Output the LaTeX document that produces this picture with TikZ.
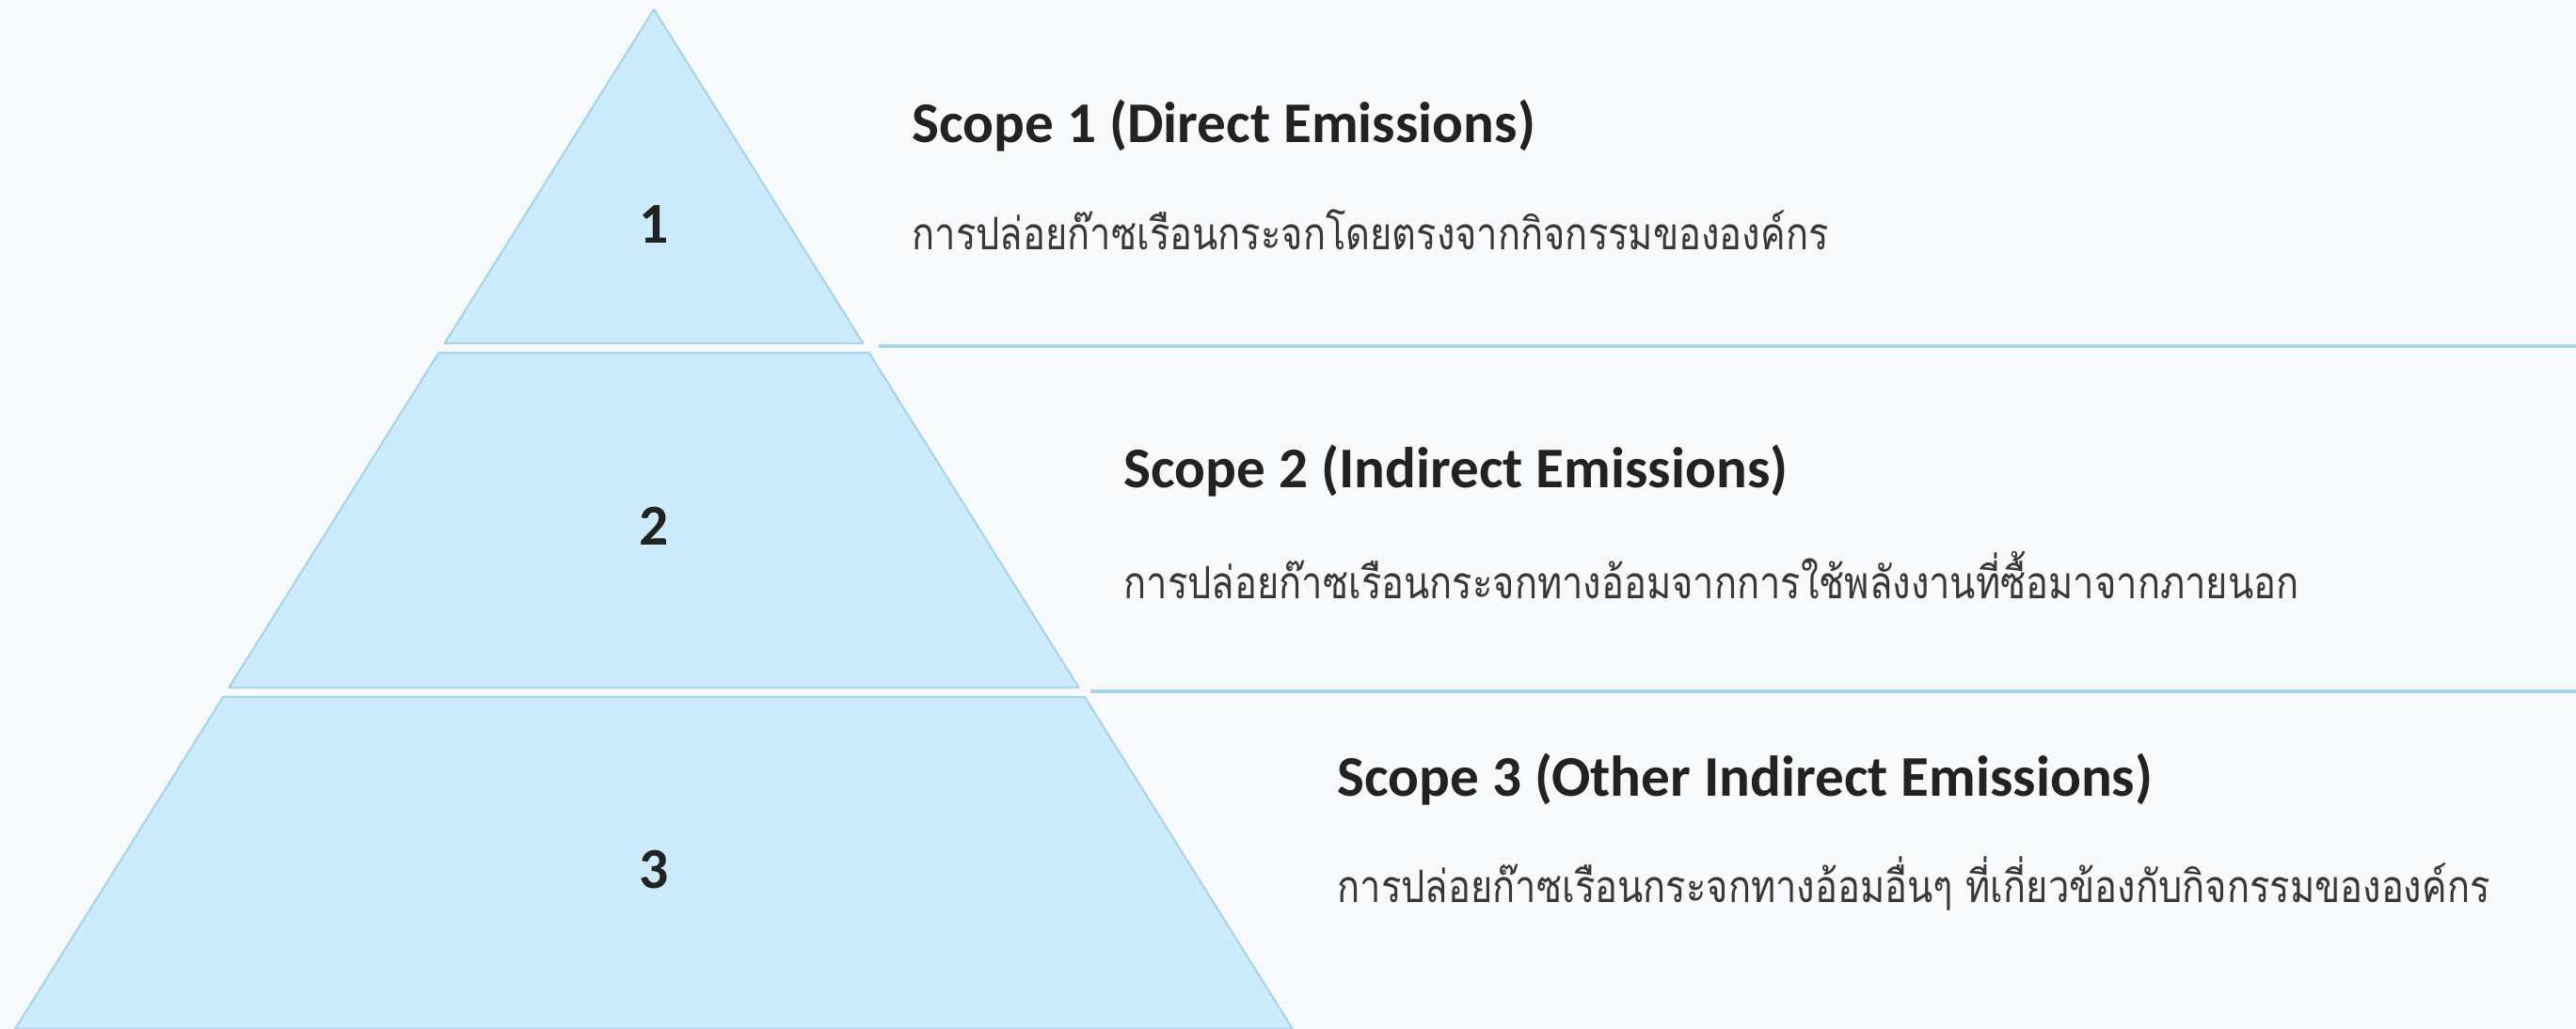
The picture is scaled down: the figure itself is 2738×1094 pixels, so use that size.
\documentclass[tikz,border=0pt]{standalone}
\usepackage{fontspec}
\setmainfont{Carlito}
\newfontfamily\thaifont[Script=Thai,FakeStretch=0.84]{Loma}
\usetikzlibrary{calc}
\definecolor{pyrfill}{HTML}{CCECFD}
\definecolor{pyredge}{HTML}{A9D3E6}
\definecolor{pagebg}{HTML}{F7F9FB}
\definecolor{inkdark}{HTML}{222222}
\tikzset{
    layer/.style={fill=pyrfill,draw=pyredge,line width=0.6pt,line join=round},
    sepline/.style={draw=pyredge,line width=0.9pt},
    num/.style={font=\fontsize{17.5}{20}\selectfont\bfseries,text=inkdark},
    title/.style={anchor=west,inner sep=0pt,font=\fontsize{17.4}{20}\selectfont\bfseries,text=inkdark},
    desc/.style={anchor=west,inner sep=0pt,font=\thaifont\fontsize{13.5}{16}\selectfont,text=inkdark!90}
}
\begin{document}
\begin{tikzpicture}[x=0.01cm,y=-0.01cm]
        % background
        \fill [pagebg] (0,0) rectangle (2738,1094);
        \useasboundingbox (0,0) rectangle (2738,1094);
        % apex and base of the pyramid
        \coordinate (A) at (695,10);
        \coordinate (BL) at (16,1094);
        \coordinate (BR) at (1374,1094);
        % cut points of the layers
        \coordinate (L1) at ($(A)!0.3275!(BL)$);
        \coordinate (R1) at ($(A)!0.3275!(BR)$);
        \coordinate (L2t) at ($(A)!0.3367!(BL)$);
        \coordinate (R2t) at ($(A)!0.3367!(BR)$);
        \coordinate (L2b) at ($(A)!0.6651!(BL)$);
        \coordinate (R2b) at ($(A)!0.6651!(BR)$);
        \coordinate (L3t) at ($(A)!0.6744!(BL)$);
        \coordinate (R3t) at ($(A)!0.6744!(BR)$);
        % layers
        \draw [layer] (A) -- (R1) -- (L1) -- cycle;
        \draw [layer] (L2t) -- (R2t) -- (R2b) -- (L2b) -- cycle;
        \draw [layer] (L3t) -- (R3t) -- (BR) -- (BL) -- cycle;
        % separator lines
        \coordinate (S1a) at (934,368);
        \coordinate (S1b) at (2738,368);
        \coordinate (S2a) at (1159,735);
        \coordinate (S2b) at (2738,735);
        \draw [sepline] (S1a) -- (S1b);
        \draw [sepline] (S2a) -- (S2b);
        % layer numbers
        \node [num] (n1) at (695,239) {1};
        \node [num] (n2) at (695,559) {2};
        \node [num] (n3) at (695,925) {3};
        % scope texts
        \node [title] (t1) at (969,134) {Scope 1 (Direct Emissions)};
        \node [desc] (d1) at (969,244) {การปล่อยก๊าซเรือนกระจกโดยตรงจากกิจกรรมขององค์กร};
        \node [title] (t2) at (1194,501) {Scope 2 (Indirect Emissions)};
        \node [desc] (d2) at (1194,611) {การปล่อยก๊าซเรือนกระจกทางอ้อมจากการใช้พลังงานที่ซื้อมาจากภายนอก};
        \node [title] (t3) at (1421,829) {Scope 3 (Other Indirect Emissions)};
        \node [desc] (d3) at (1421,939) {การปล่อยก๊าซเรือนกระจกทางอ้อมอื่นๆ ที่เกี่ยวข้องกับกิจกรรมขององค์กร};
\end{tikzpicture}
\end{document}
